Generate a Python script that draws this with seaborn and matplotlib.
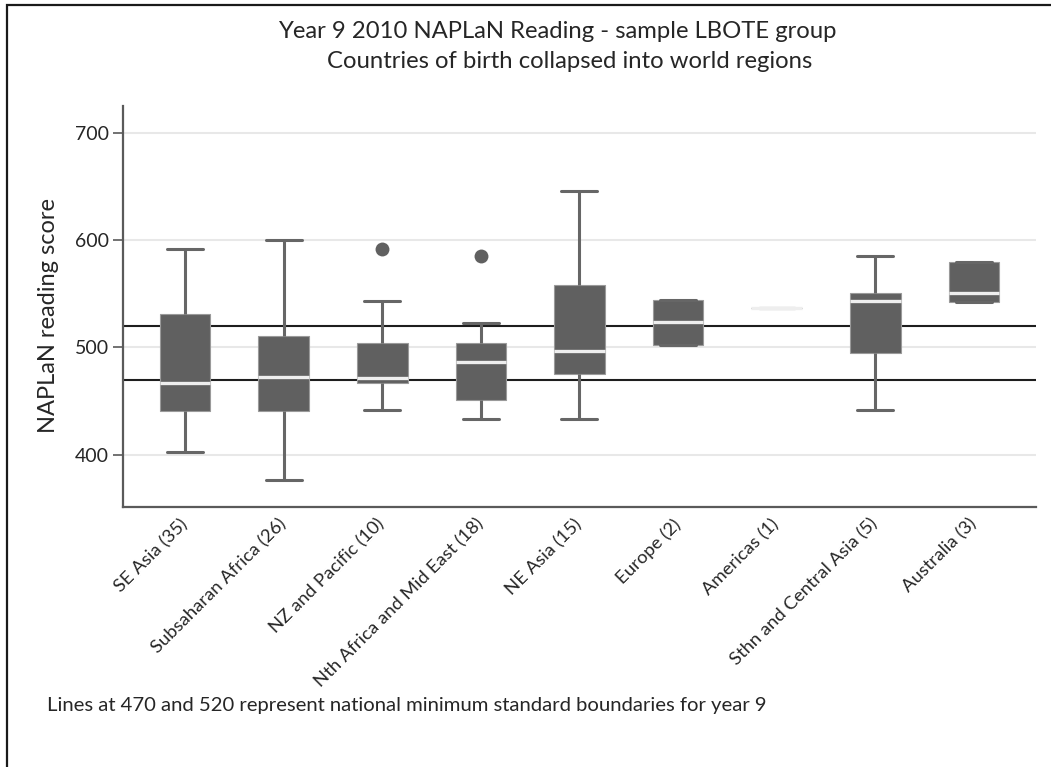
# ============================================
# naplan_box.py - Year 9 2010 NAPLaN reading by world region
# ============================================

import matplotlib
matplotlib.use("Agg")
import matplotlib.pyplot as plt
from matplotlib.patches import Rectangle
import seaborn as sns
import pandas as pd

# -----------------------------
# Data
# -----------------------------
regions = ["SE Asia (35)", "Subsaharan Africa (26)", "NZ and Pacific (10)",
           "Nth Africa and Mid East (18)", "NE Asia (15)", "Europe (2)",
           "Americas (1)", "Sthn and Central Asia (5)", "Australia (3)"]
lower_adj = [402, 376, 442, 433, 433, 502, 537, 442, 542]
q1 = [441, 441, 467, 451, 475, 502, 537, 495, 542]
median = [467, 472, 471, 486, 497, 524, 537, 543, 551]
q3 = [531, 511, 504, 504, 558, 544, 537, 551, 580]
upper_adj = [592, 600, 543, 523, 646, 544, 537, 585, 580]

outlier_region = ["NZ and Pacific (10)", "Nth Africa and Mid East (18)"]
outlier_score = [592, 585]

standards = [470, 520]

# long form table: five-number summary per region, whiskers at min/max
rows = []
for i, r in enumerate(regions):
    for v in (lower_adj[i], q1[i], median[i], q3[i], upper_adj[i]):
        rows.append({"region": r, "score": v})
df = pd.DataFrame(rows)

# -----------------------------
# Plot
# -----------------------------
sns.set_style("white")
plt.rcParams["font.family"] = ["Lato", "DejaVu Sans"]

fig = plt.figure(figsize=(10.51, 7.67), dpi=100)
ax = fig.add_axes([0.117, 0.339, 0.8687, 0.523])

box_col = "#606060"
for s in standards:
    ax.axhline(s, color="#1e1e1e", lw=1.5, zorder=1.5)

sns.boxplot(data=df, x="region", y="score", order=regions, ax=ax,
            whis=(0, 100), width=0.514, color=box_col, saturation=1,
            linewidth=2.2, capwidths=0.365,
            boxprops={"edgecolor": "#9a9a9a", "linewidth": 0.8, "zorder": 2},
            medianprops={"color": "#eeeeee", "linewidth": 2.4},
            whiskerprops={"color": "#666666", "linewidth": 2.2},
            capprops={"color": "#666666", "linewidth": 2.2})

sns.stripplot(x=outlier_region, y=outlier_score, order=regions, ax=ax,
              jitter=False, size=10, color=box_col, zorder=3)

ax.set_xlim(-0.63, 8.63)
ax.set_ylim(351, 725.5)
ax.set_yticks([400, 500, 600, 700])
ax.yaxis.grid(True, color="#e8e8e8", lw=1.5)
ax.set_axisbelow(True)

for side in ["top", "right"]:
    ax.spines[side].set_visible(False)
for side in ["left", "bottom"]:
    ax.spines[side].set_color("#5a5a5a")
    ax.spines[side].set_linewidth(1.6)

ax.tick_params(axis="y", left=True, length=7, width=1.2, color="#5a5a5a",
               labelsize=14, pad=3)
ax.tick_params(axis="x", bottom=False, labelsize=13.3, pad=7)
for lab in ax.get_xticklabels():
    lab.set_rotation(45)
    lab.set_ha("right")
    lab.set_va("center")
    lab.set_rotation_mode("anchor")

ax.set_xlabel("")
ax.set_ylabel("")
fig.text(49 / 1051, 1 - 315 / 767, "NAPLaN reading score", rotation=90,
         ha="center", va="center", fontsize=17)

fig.text(557 / 1051, 1 - 31 / 767, "Year 9 2010 NAPLaN Reading - sample LBOTE group",
         ha="center", va="center", fontsize=17.2)
fig.text(570 / 1051, 1 - 61 / 767, "Countries of birth collapsed into world regions",
         ha="center", va="center", fontsize=17.2)
fig.text(47 / 1051, 1 - 705 / 767,
         "Lines at 470 and 520 represent national minimum standard boundaries for year 9",
         ha="left", va="center", fontsize=14.6)

# outer frame (left and top edges visible)
fig.patches.append(Rectangle((7 / 1051, -0.1), 1.2, 1.1 - 5 / 767,
                             transform=fig.transFigure, fill=False,
                             edgecolor="#1a1a1a", lw=1.6))

fig.savefig("out.png", dpi=100)
